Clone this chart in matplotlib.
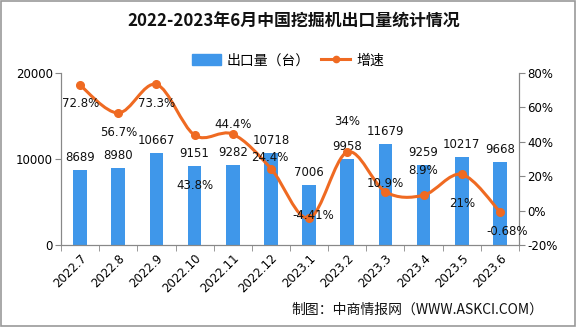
import matplotlib
matplotlib.use("Agg")
import matplotlib.pyplot as plt
from matplotlib.path import Path
from matplotlib.patches import PathPatch, Rectangle
from matplotlib.lines import Line2D
from matplotlib.ticker import FixedLocator, FuncFormatter

plt.rcParams["font.family"] = ["DejaVu Sans", "Noto Sans CJK SC"]

months = ["2022.7", "2022.8", "2022.9", "2022.10", "2022.11", "2022.12",
          "2023.1", "2023.2", "2023.3", "2023.4", "2023.5", "2023.6"]
exports = [8689, 8980, 10667, 9151, 9282, 10718, 7006, 9958, 11679, 9259, 10217, 9668]
growth = [72.8, 56.7, 73.3, 43.8, 44.4, 24.4, -4.41, 34, 10.9, 8.9, 21, -0.68]
growth_text = ["72.8%", "56.7%", "73.3%", "43.8%", "44.4%", "24.4%",
               "-4.41%", "34%", "10.9%", "8.9%", "21%", "-0.68%"]

# label offsets in points (dx, dy) relative to the line points
g_offsets = [(0, -13), (0, -14), (0, -14), (0, -36), (0, 7), (-1, 8),
             (3, 2), (0, 22), (0, 6), (0, 18), (0, -21), (5, -14)]

BAR = "#3f97ea"
LINE = "#ef6a22"

fig = plt.figure(figsize=(5.76, 3.27), dpi=100)
ax = fig.add_axes([0.106, 0.251, 0.795, 0.526])
ax2 = ax.twinx()

x = list(range(len(months)))
ax.bar(x, exports, width=0.36, color=BAR, zorder=2)
for xi, v in zip(x, exports):
    ax.annotate(str(v), (xi, v), xytext=(0, 9), textcoords="offset points",
                ha="center", va="center", fontsize=8.5, color="#111111")

ax.set_xlim(-0.5, len(months) - 0.5)
ax.set_ylim(0, 20000)
ax.set_yticks([0, 10000, 20000])
ax.set_xticks(x)
ax.set_xticklabels(months, rotation=45, ha="right", rotation_mode="anchor",
                   fontsize=8.5)
ax.xaxis.set_minor_locator(FixedLocator([i - 0.5 for i in range(len(months) + 1)]))
ax.tick_params(axis="x", which="major", length=0, pad=5)
ax.tick_params(axis="x", which="minor", length=4, color="#888888")
ax.tick_params(axis="y", length=4, color="#888888", labelsize=8.5, pad=2)

ax2.set_ylim(-20, 80)
ax2.set_yticks([-20, 0, 20, 40, 60, 80])
ax2.yaxis.set_major_formatter(FuncFormatter(lambda v, p: f"{v:.0f}%"))
ax2.tick_params(axis="y", length=4, color="#888888", labelsize=8.5, pad=2)

for a in (ax, ax2):
    a.spines["top"].set_visible(False)
    for s in ("left", "right", "bottom"):
        a.spines[s].set_color("#888888")
        a.spines[s].set_linewidth(0.8)

# smooth line through the growth values (Catmull-Rom as cubic Bezier)
pts = list(zip(x, growth))
verts = [pts[0]]
codes = [Path.MOVETO]
for i in range(len(pts) - 1):
    p0 = pts[i - 1] if i > 0 else pts[i]
    p1 = pts[i]
    p2 = pts[i + 1]
    p3 = pts[i + 2] if i + 2 < len(pts) else pts[i + 1]
    c1 = (p1[0] + (p2[0] - p0[0]) / 6, p1[1] + (p2[1] - p0[1]) / 6)
    c2 = (p2[0] - (p3[0] - p1[0]) / 6, p2[1] - (p3[1] - p1[1]) / 6)
    verts += [c1, c2, p2]
    codes += [Path.CURVE4] * 3
ax2.add_patch(PathPatch(Path(verts, codes), facecolor="none", edgecolor=LINE,
                        linewidth=2.2, zorder=3))
ax2.plot(x, growth, linestyle="none", marker="o", markersize=5.5,
         color=LINE, zorder=4)
for xi, v, t, (dx, dy) in zip(x, growth, growth_text, g_offsets):
    ax2.annotate(t, (xi, v), xytext=(dx, dy), textcoords="offset points",
                 ha="center", va="center", fontsize=8.5, color="#111111",
                 zorder=5)

fig.text(0.51, 0.935, "2022-2023年6月中国挖掘机出口量统计情况",
         ha="center", va="center", fontsize=12.2, fontweight="bold",
         family=["Noto Sans CJK SC"], color="#111111")

handles = [Rectangle((0, 0), 1, 1, color=BAR),
           Line2D([], [], color=LINE, linewidth=2.2, marker="o", markersize=4.5)]
fig.legend(handles, ["出口量（台）", "增速"], loc="center", ncol=2,
           bbox_to_anchor=(0.5, 0.815), frameon=False,
           prop={"family": ["Noto Sans CJK SC"], "size": 10},
           handlelength=2.1, handleheight=0.8, columnspacing=0.8,
           handletextpad=0.4)

fig.text(0.943, 0.052, "制图：中商情报网（WWW.ASKCI.COM）", ha="right",
         va="center", fontsize=10, family=["Noto Sans CJK SC"],
         color="#111111")

fig.patches.append(Rectangle((0.001, 0.002), 0.997, 0.995,
                             transform=fig.transFigure, fill=False,
                             edgecolor="#999999", linewidth=1.2))

fig.savefig("out.png", dpi=100)
